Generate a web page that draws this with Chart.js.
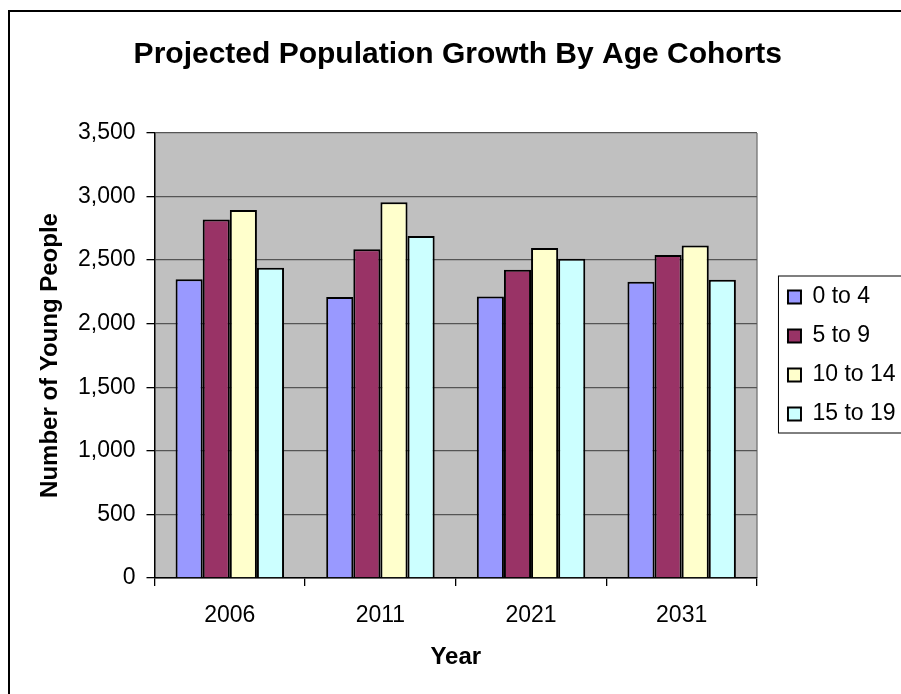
<!DOCTYPE html>
<html>
<head>
<meta charset="utf-8">
<script src="https://cdn.jsdelivr.net/npm/chart.js@4.4.0/dist/chart.umd.min.js"></script>
<style>
  html, body { margin: 0; padding: 0; background: #fff; overflow: hidden; }
  #frame { position: absolute; left: 8px; top: 10px; width: 1000px; height: 1000px; border: 2px solid #000; }
  #wrap { position: absolute; left: 0; top: 0; width: 901px; height: 694px; }
</style>
</head>
<body>
<div id="frame"></div>
<div id="wrap"><canvas id="pop-chart" width="901" height="694"></canvas></div>
<script>
var years = ['2006', '2011', '2021', '2031'];
var cohorts = ['0 to 4', '5 to 9', '10 to 14', '15 to 19'];
var age0to4 = [2350, 2210, 2215, 2330];
var age5to9 = [2820, 2585, 2425, 2540];
var age10to14 = [2895, 2955, 2595, 2615];
var age15to19 = [2440, 2690, 2510, 2345];
var cohortColors = ['#9999FF', '#993366', '#FFFFCC', '#CCFFFF'];

Chart.defaults.font.family = "'Liberation Sans', Arial, sans-serif";
Chart.defaults.color = '#000';

// grey plot area, right edge line and a box round the legend
var plotBox = {
  id: 'plotBox',
  beforeDraw: function(chart) {
    var a = chart.chartArea, c = chart.ctx;
    c.save();
    c.fillStyle = '#C0C0C0';
    c.fillRect(a.left, a.top, a.right - a.left, a.bottom - a.top);
    c.strokeStyle = '#808080';
    c.lineWidth = 1.5;
    c.beginPath();
    c.moveTo(a.right, a.top);
    c.lineTo(a.right, a.bottom);
    c.stroke();
    c.restore();
  },
  afterDraw: function(chart) {
    var lg = chart.legend, c = chart.ctx;
    var hb = lg.legendHitBoxes;
    if (!hb || !hb.length) return;
    var top = hb[0].top - 9.5;
    var bottom = hb[hb.length - 1].top + hb[hb.length - 1].height + 7.5;
    c.save();
    c.strokeStyle = '#000';
    c.lineWidth = 1;
    c.strokeRect(lg.left + 6.5, top, 300, bottom - top);
    c.restore();
  }
};

var ctx = document.getElementById('pop-chart').getContext('2d');
var myChart = new Chart(ctx, {
  type: 'bar',
  data: {
    labels: years,
    datasets: [age0to4, age5to9, age10to14, age15to19].map(function(vals, i) {
      return {
        label: cohorts[i],
        data: vals,
        backgroundColor: cohortColors[i],
        borderColor: '#000',
        borderWidth: 2
      };
    })
  },
  options: {
    responsive: false,
    animation: false,
    categoryPercentage: 0.72,
    barPercentage: 1.0,
    layout: { padding: { left: 10, right: -4.6, top: 18, bottom: 0 } },
    scales: {
      x: {
        grid: { offset: true, drawOnChartArea: false, tickLength: 8, tickColor: '#000', lineWidth: 1.3 },
        border: { color: '#000', width: 1.5 },
        ticks: { font: { size: 23 }, padding: 16 },
        title: { display: true, text: 'Year', font: { size: 24, weight: 'bold' }, padding: { top: 0, bottom: 22 } },
        afterFit: function(s) { s.height = 116; }
      },
      y: {
        min: 0,
        max: 3500,
        ticks: {
          stepSize: 500,
          font: { size: 23 },
          padding: 11,
          callback: function(v) { return v.toLocaleString('en-US'); }
        },
        grid: { color: '#555', lineWidth: 1.3, tickLength: 8, tickColor: '#000' },
        border: { color: '#000', width: 1.5 },
        title: { display: true, text: 'Number of Young People', font: { size: 24, weight: 'bold' }, padding: { top: 25.6, bottom: 0 } },
        afterFit: function(s) { s.width = 144.5; }
      },
      gap: {
        type: 'linear',
        position: 'right',
        display: true,
        grid: { display: false },
        border: { display: false },
        ticks: { display: false },
        afterFit: function(s) { s.width = 15; }
      }
    },
    plugins: {
      title: {
        display: true,
        text: 'Projected Population Growth By Age Cohorts',
        font: { size: 30, weight: 'bold' },
        color: '#000',
        padding: { top: 19, bottom: 60 }
      },
      legend: {
        position: 'right',
        align: 'center',
        fullSize: false,
        labels: {
          boxWidth: 13,
          boxHeight: 13,
          padding: 16,
          font: { size: 23 },
          color: '#000'
        }
      },
      tooltip: { enabled: false }
    }
  },
  plugins: [plotBox]
});
</script>
</body>
</html>
